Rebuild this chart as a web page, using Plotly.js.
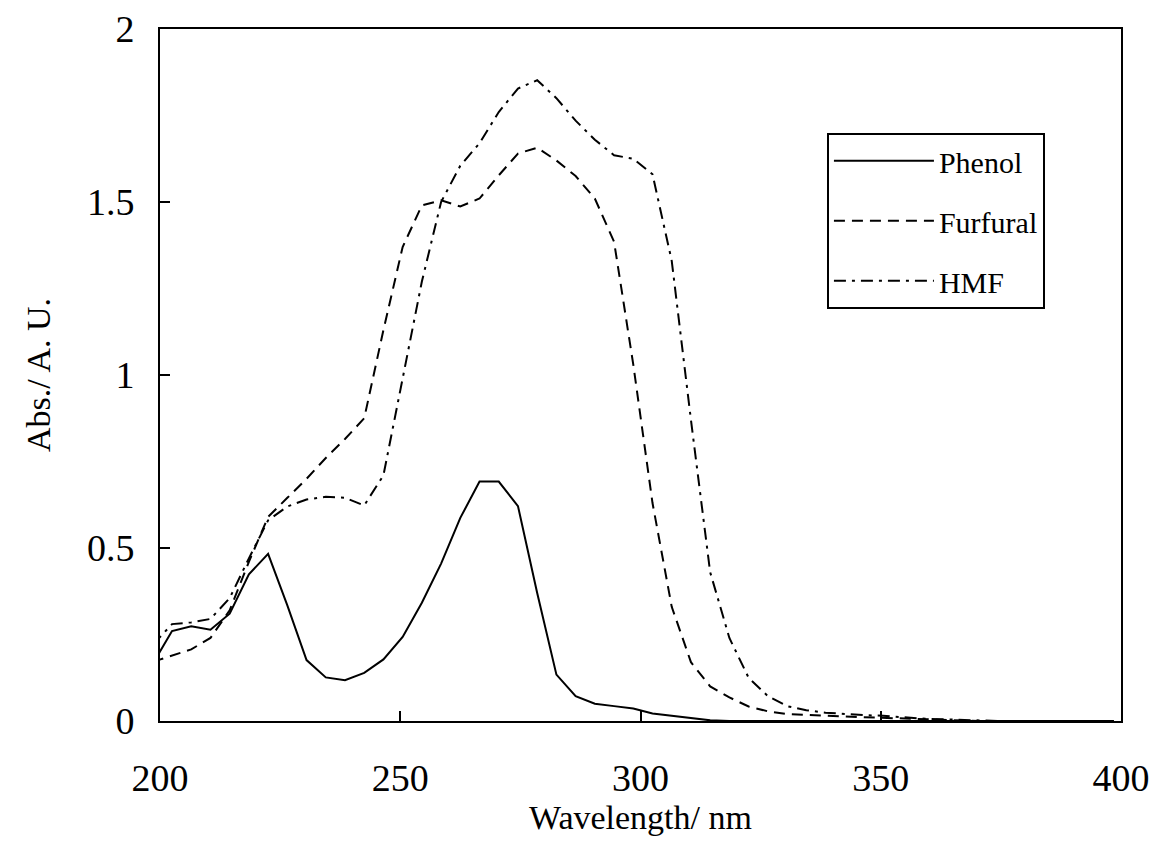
<!DOCTYPE html>
<html>
<head>
<meta charset="utf-8">
<script src="https://cdn.plot.ly/plotly-3.0.1.min.js"></script>
<style>html,body{margin:0;padding:0;background:#fff;}#chart{width:1154px;height:857px;}</style>
</head>
<body>
<div id="chart"></div>
<script>
const wavelength = [198.5,202.5,206.5,210.5,214.5,218.5,222.5,226.5,230.5,234.5,238.5,242.5,246.5,250.5,254.5,258.5,262.5,266.5,270.5,274.5,278.5,282.5,286.5,290.5,294.5,298.5,302.5,306.5,310.5,314.5,318.5,322.5,326.5,330.5,334.5,338.5,342.5,346.5,350.5,354.5,358.5,362.5,366.5,370.5,374.5,378.5,382.5,386.5,390.5,394.5,398.5];

const phenol = [0.165,0.26,0.274,0.264,0.31,0.424,0.483,0.334,0.176,0.126,0.118,0.139,0.178,0.243,0.342,0.455,0.587,0.692,0.692,0.621,0.37,0.134,0.072,0.05,0.043,0.036,0.022,0.015,0.008,0.002,0,0,0,0,0,0,0,0,0,0,0,0,0,0,0,0,0,0,0,0,0];

const furfural = [0.171,0.19,0.207,0.24,0.32,0.46,0.59,0.645,0.70,0.76,0.815,0.875,1.13,1.37,1.49,1.505,1.487,1.51,1.577,1.64,1.657,1.62,1.575,1.51,1.385,1.03,0.63,0.33,0.17,0.10,0.068,0.042,0.028,0.02,0.017,0.015,0.013,0.011,0.009,0.006,0.004,0.002,0.001,0,0,0,0,0,0,0,0];

const hmf = [0.22,0.28,0.285,0.295,0.355,0.47,0.58,0.62,0.64,0.648,0.645,0.623,0.71,0.99,1.27,1.50,1.605,1.67,1.76,1.828,1.852,1.80,1.735,1.68,1.635,1.625,1.58,1.33,0.87,0.43,0.24,0.125,0.072,0.043,0.031,0.024,0.02,0.017,0.015,0.01,0.007,0.005,0.003,0.002,0,0,0,0,0,0,0];

const seriesNames = ['Phenol','Furfural','HMF'];
const FONT = 'Liberation Serif, Times New Roman, serif';

const traces = [
  {x: wavelength, y: phenol, name: seriesNames[0], legendgroup: 'g1', mode: 'lines',
   line: {color: '#000', width: 2, dash: 'solid'}},
  {x: wavelength, y: furfural, name: seriesNames[1], legendgroup: 'g2', mode: 'lines',
   line: {color: '#000', width: 2, dash: '11px,7px'}},
  {x: wavelength, y: hmf, name: seriesNames[2], legendgroup: 'g3', mode: 'lines',
   line: {color: '#000', width: 2, dash: '12px,6px,3px,6px'}}
];

const layout = {
  width: 1154, height: 857,
  margin: {l: 160, r: 33, t: 29, b: 136},
  paper_bgcolor: '#fff', plot_bgcolor: '#fff',
  font: {family: FONT, color: '#000', size: 34},
  showlegend: true,
  legend: {
    x: 0.694, y: 0.85, xanchor: 'left', yanchor: 'top',
    bordercolor: '#000', borderwidth: 2, bgcolor: '#fff',
    font: {family: FONT, size: 30, color: '#000'},
    traceorder: 'grouped', tracegroupgap: 18, itemwidth: 100
  },
  xaxis: {
    range: [200, 400], dtick: 50, tick0: 200,
    showgrid: false, zeroline: false,
    showline: true, linecolor: '#000', linewidth: 2, mirror: true,
    ticks: 'inside', ticklen: 10, tickwidth: 2, tickcolor: '#000',
    ticklabelstandoff: 22,
    tickfont: {family: FONT, size: 38, color: '#000'},
    title: {text: 'Wavelength/ nm', font: {family: FONT, size: 34, color: '#000'}, standoff: 0}
  },
  yaxis: {
    range: [0, 2], dtick: 0.5, tick0: 0,
    showgrid: false, zeroline: false,
    showline: true, linecolor: '#000', linewidth: 2, mirror: true,
    ticks: 'inside', ticklen: 10, tickwidth: 2, tickcolor: '#000',
    ticklabelstandoff: 16,
    tickfont: {family: FONT, size: 38, color: '#000'},
    title: {text: 'Abs./ A. U.', font: {family: FONT, size: 34, color: '#000'}, standoff: 26}
  }
};

Plotly.newPlot('chart', traces, layout, {displayModeBar: false, staticPlot: true});
</script>
</body>
</html>
